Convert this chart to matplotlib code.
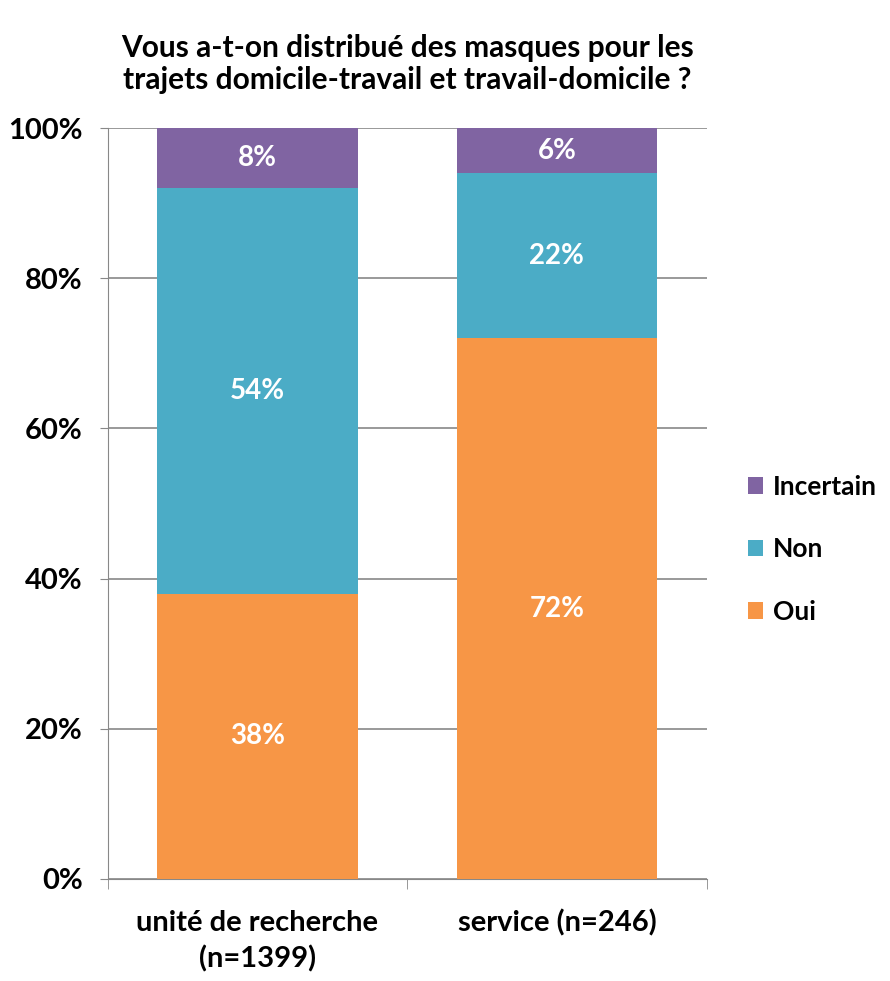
import matplotlib.pyplot as plt
import numpy as np

categories = ['unité de recherche\n(n=1399)', 'service (n=246)']
oui = [38, 72]
non = [54, 22]
incertain = [8, 6]
series = [('Oui', oui, '#F79646'), ('Non', non, '#4BACC6'), ('Incertain', incertain, '#8064A2')]

plt.rcParams['font.family'] = ['Lato', 'DejaVu Sans']
plt.rcParams['font.weight'] = 'bold'

fig = plt.figure(figsize=(8.9, 9.81), dpi=100)
ax = fig.add_axes([0.121, 0.104, 0.673, 0.7655])

x = np.arange(len(categories))
bottom = np.zeros(len(categories))
handles = []
for name, vals, color in series:
    b = ax.bar(x, vals, 0.67, bottom=bottom, color=color, label=name, zorder=3)
    handles.append(b)
    for xi, v, bt in zip(x, vals, bottom):
        ax.text(xi, bt + v / 2, f'{v}%', ha='center', va='center', color='white',
                fontsize=20, fontweight='bold', zorder=4)
    bottom += np.array(vals)

ax.set_xlim(-0.5, 1.5)
ax.set_ylim(0, 100)
ax.set_yticks(range(0, 101, 20))
ax.set_yticklabels([f'{v}%' for v in range(0, 101, 20)], fontsize=21)
ax.yaxis.grid(True, color='#888888', linewidth=1.2, zorder=0)
ax.set_xticks(x)
ax.set_xticklabels(categories, fontsize=21, linespacing=1.45)
ax.set_xticks([-0.5, 0.5, 1.5], minor=True)
ax.tick_params(axis='x', which='major', length=0, pad=22)
ax.tick_params(axis='x', which='minor', length=7, color='#888888')
ax.tick_params(axis='y', length=6, color='#888888', pad=12)
for s in ['top', 'right']:
    ax.spines[s].set_visible(False)
ax.spines['left'].set_color('#888888')
ax.spines['bottom'].set_color('#888888')

ax.set_title('Vous a-t-on distribué des masques pour les\ntrajets domicile-travail et travail-domicile ?',
             fontsize=21.5, fontweight='bold', pad=28, linespacing=1.2)

leg = fig.legend(handles[::-1], ['Incertain', 'Non', 'Oui'], loc='center left',
                 bbox_to_anchor=(0.84, 0.44), frameon=False, fontsize=19,
                 handlelength=0.6, handleheight=0.6, handletextpad=0.35, labelspacing=1.45,
                 borderaxespad=0, borderpad=0)

fig.savefig('out.png', dpi=100)
